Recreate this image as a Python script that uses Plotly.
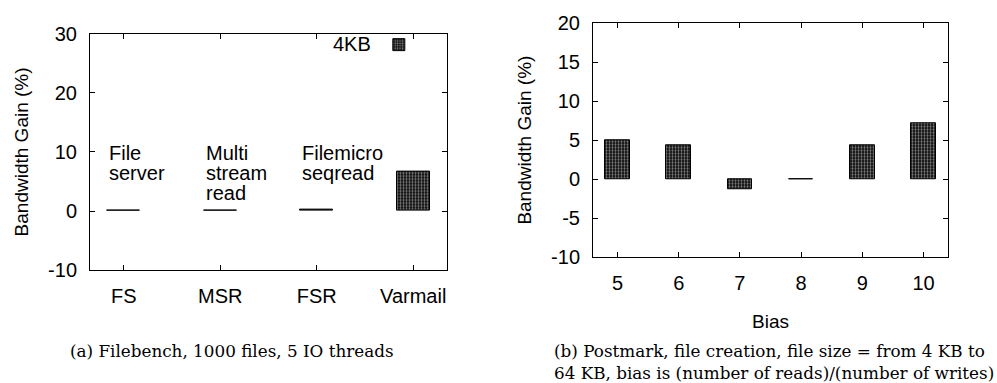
import plotly.graph_objects as go

# ---- data ----
fb_categories = ["FS", "MSR", "FSR", "Varmail"]
fb_gain = [0.0, 0.0, 0.2, 6.7]
fb_labels = [["File", "server"], ["Multi", "stream", "read"], ["Filemicro", "seqread"], []]

bias_values = [5, 6, 7, 8, 9, 10]
pm_gain = [5.0, 4.35, -1.25, 0.0, 4.35, 7.15]

fb_yticks = [-10, 0, 10, 20, 30]
pm_yticks = [-10, -5, 0, 5, 10, 15, 20]

series_name = "4KB"
caption_a = "(a) Filebench, 1000 files, 5 IO threads"
caption_b = ["(b) Postmark, file creation, file size = from 4 KB to",
             "64 KB, bias is (number of reads)/(number of writes)"]

# ---- style ----
W, H = 997, 383
SANS = "Liberation Sans, Arial, sans-serif"
SERIF = "DejaVu Serif, serif"
FS_TICK = 20
FS_TITLE = 19
FS_CAP = 16.8
pattern = dict(shape=".", size=3, solidity=0.45, fgcolor="white", bgcolor="black")
bar_line = dict(color="black", width=1)
fb_width = 0.34
pm_width = 0.4

fig = go.Figure()
fig.add_trace(go.Bar(
    x=list(range(len(fb_categories))), y=fb_gain, width=fb_width,
    marker=dict(color="black", pattern=pattern, line=bar_line),
    name="", showlegend=True, xaxis="x", yaxis="y",
))
fig.add_trace(go.Bar(
    x=bias_values, y=pm_gain, width=pm_width,
    marker=dict(color="black", pattern=pattern, line=bar_line),
    name="", showlegend=False, xaxis="x2", yaxis="y2",
))

axis_common = dict(
    showline=True, linecolor="black", linewidth=1, mirror="allticks",
    ticks="inside", ticklen=5, tickwidth=1, tickcolor="black",
    showgrid=False, zeroline=False,
    tickfont=dict(family=SANS, size=FS_TICK, color="black"),
)

fig.update_layout(
    width=W, height=H, margin=dict(l=0, r=0, t=0, b=0),
    paper_bgcolor="white", plot_bgcolor="white",
    bargap=0, showlegend=True,
    xaxis=dict(axis_common, domain=[90 / W, 447 / W], range=[-0.35, 3.35],
               tickvals=list(range(len(fb_categories))), ticktext=fb_categories,
               anchor="y", ticklabelstandoff=8),
    yaxis=dict(axis_common, domain=[1 - 275 / H, 1 - 24 / H], range=[-10, 30],
               tickvals=fb_yticks, ticktext=[str(v) for v in fb_yticks],
               anchor="x", ticklabelstandoff=8,
               title=dict(text="Bandwidth Gain (%)", font=dict(family=SANS, size=FS_TITLE, color="black"),
                          standoff=14)),
    xaxis2=dict(axis_common, domain=[593 / W, 948 / W], range=[4.6, 10.4],
                tickvals=bias_values, anchor="y2", ticklabelstandoff=8,
                title=dict(text="Bias", font=dict(family=SANS, size=FS_TITLE, color="black"), standoff=21)),
    yaxis2=dict(axis_common, domain=[1 - 261 / H, 1 - 13 / H], range=[-10, 20],
                tickvals=pm_yticks, ticktext=[str(v) for v in pm_yticks],
                anchor="x2", ticklabelstandoff=8,
                title=dict(text="Bandwidth Gain (%)", font=dict(family=SANS, size=FS_TITLE, color="black"),
                           standoff=14)),
    legend=dict(x=424 / W, xanchor="right", y=1 - 15 / H, yanchor="top",
                bgcolor="rgba(0,0,0,0)", borderwidth=0,
                title=dict(text=series_name, side="left", font=dict(family=SANS, size=FS_TICK, color="black")),
                font=dict(family=SANS, size=FS_TICK, color="black"), itemwidth=30),
)

annotations = []
for i, lines in enumerate(fb_labels):
    for k, line in enumerate(lines):
        annotations.append(dict(
            x=i - fb_width / 2, y=12.0, xref="x", yref="y", xanchor="left", yanchor="top",
            yshift=-20 * k, text=line, showarrow=False,
            font=dict(family=SANS, size=FS_TICK, color="black"),
        ))

annotations.append(dict(x=232 / W, y=1 - 348 / H, xref="paper", yref="paper",
                        xanchor="center", yanchor="top", text=caption_a, showarrow=False,
                        font=dict(family=SERIF, size=FS_CAP, color="black")))
annotations.append(dict(x=552 / W, y=1 - 348 / H, xref="paper", yref="paper",
                        xanchor="left", yanchor="top", align="left",
                        text="<br>".join(caption_b), showarrow=False,
                        font=dict(family=SERIF, size=FS_CAP, color="black")))
fig.update_layout(annotations=annotations)

fig.write_html("out.html")
